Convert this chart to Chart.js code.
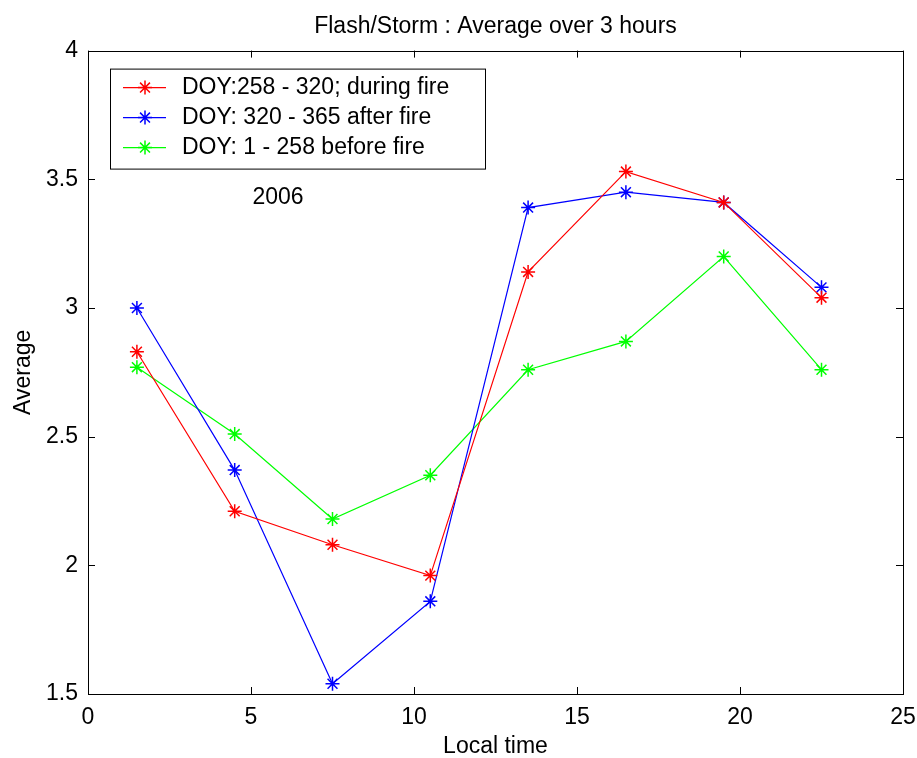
<!DOCTYPE html>
<html>
<head>
<meta charset="utf-8">
<script src="https://cdn.jsdelivr.net/npm/chart.js@4.4.1/dist/chart.umd.min.js"></script>
<style>
  html, body { margin: 0; padding: 0; background: #fff; }
  #wrap { width: 917px; height: 758px; }
</style>
</head>
<body>
<div id="wrap"><canvas id="chart" width="917" height="758"></canvas></div>
<script>
// local time (hours)
const hours = [1.5, 4.5, 7.5, 10.5, 13.5, 16.5, 19.5, 22.5];
const duringFire = [2.83, 2.21, 2.08, 1.96, 3.14, 3.53, 3.41, 3.04];
const afterFire = [3.00, 2.37, 1.54, 1.86, 3.39, 3.45, 3.41, 3.08];
const beforeFire = [2.77, 2.51, 2.18, 2.35, 2.76, 2.87, 3.20, 2.76];
const seriesNames = ['DOY:258 - 320; during fire', 'DOY: 320 - 365 after fire', 'DOY: 1 - 258 before fire'];
const xTicks = [0, 5, 10, 15, 20, 25];
const yTicks = [1.5, 2, 2.5, 3, 3.5, 4];
const yearNote = { text: '2006', x: 5.83, y: 3.43 };

const FONT = 'Liberation Sans, Arial, sans-serif';

function toPoints(vals) {
    return hours.map((h, i) => ({ x: h, y: vals[i] }));
}

function makeSet(label, vals, color) {
    return {
        label: label,
        data: toPoints(vals),
        borderColor: color,
        backgroundColor: color,
        borderWidth: 1.2,
        pointStyle: 'star',
        pointRadius: 7,
        pointBorderWidth: 1.5,
        pointBorderColor: color,
        tension: 0
    };
}

// frame, inward ticks on all four sides, the year note and the boxed legend
const matlabAxes = {
    id: 'matlabAxes',
    afterDatasetsDraw(chart) {
        const ctx = chart.ctx;
        const a = chart.chartArea;
        const xs = chart.scales.x;
        const ys = chart.scales.y;
        const tl = 7;

        ctx.save();
        ctx.strokeStyle = '#000';
        ctx.lineWidth = 1;
        ctx.strokeRect(Math.round(a.left) + 0.5, Math.round(a.top) + 0.5,
            Math.round(a.right - a.left), Math.round(a.bottom - a.top));

        ctx.beginPath();
        xTicks.forEach(v => {
            const px = Math.round(xs.getPixelForValue(v)) + 0.5;
            ctx.moveTo(px, a.bottom); ctx.lineTo(px, a.bottom - tl);
            ctx.moveTo(px, a.top); ctx.lineTo(px, a.top + tl);
        });
        yTicks.forEach(v => {
            const py = Math.round(ys.getPixelForValue(v)) + 0.5;
            ctx.moveTo(a.left, py); ctx.lineTo(a.left + tl, py);
            ctx.moveTo(a.right, py); ctx.lineTo(a.right - tl, py);
        });
        ctx.stroke();

        // year label
        ctx.fillStyle = '#000';
        ctx.font = '23px ' + FONT;
        ctx.textAlign = 'center';
        ctx.textBaseline = 'middle';
        ctx.fillText(yearNote.text, xs.getPixelForValue(yearNote.x), ys.getPixelForValue(yearNote.y));

        // legend box
        const bx = a.left + 22, by = a.top + 18, bw = 375, bh = 100;
        ctx.fillStyle = '#fff';
        ctx.fillRect(bx, by, bw, bh);
        ctx.strokeRect(bx + 0.5, by + 0.5, bw, bh);
        chart.data.datasets.forEach((ds, i) => {
            const cy = by + 19 + i * 30;
            ctx.strokeStyle = ds.borderColor;
            ctx.lineWidth = 1.2;
            ctx.beginPath();
            ctx.moveTo(bx + 13, cy);
            ctx.lineTo(bx + 56, cy);
            ctx.stroke();
            ctx.lineWidth = 1.5;
            Chart.helpers.drawPoint(ctx, { pointStyle: 'star', radius: 7, borderWidth: 1.5 }, bx + 35, cy);
            ctx.fillStyle = '#000';
            ctx.textAlign = 'left';
            ctx.textBaseline = 'middle';
            ctx.fillText(ds.label, bx + 72, cy);
        });
        ctx.restore();
    }
};

const ctx = document.getElementById('chart').getContext('2d');
new Chart(ctx, {
    type: 'line',
    data: {
        datasets: [
            makeSet(seriesNames[0], duringFire, '#ff0000'),
            makeSet(seriesNames[1], afterFire, '#0000ff'),
            makeSet(seriesNames[2], beforeFire, '#00ff00')
        ]
    },
    options: {
        responsive: false,
        animation: false,
        layout: { padding: { left: 0, right: 14, top: 0, bottom: 0 } },
        plugins: {
            legend: { display: false },
            tooltip: { enabled: false },
            title: {
                display: true,
                text: 'Flash/Storm : Average over 3 hours',
                color: '#000',
                fullSize: false,
                font: { family: FONT, size: 23, weight: 'normal', lineHeight: 1.2 },
                padding: { top: 13, bottom: 10 }
            }
        },
        scales: {
            x: {
                type: 'linear',
                min: 0,
                max: 25,
                afterBuildTicks: s => { s.ticks = xTicks.map(v => ({ value: v })); },
                afterFit: s => { s.height = 64; s.paddingLeft = 0; s.paddingRight = 0; },
                grid: { display: false, drawTicks: false },
                border: { display: false },
                ticks: { color: '#000', padding: 10, maxRotation: 0, font: { family: FONT, size: 23 } },
                title: {
                    display: true,
                    text: 'Local time',
                    color: '#000',
                    font: { family: FONT, size: 23, lineHeight: 1 },
                    padding: { top: 0, bottom: 0 }
                }
            },
            y: {
                type: 'linear',
                min: 1.5,
                max: 4,
                afterBuildTicks: s => { s.ticks = yTicks.map(v => ({ value: v })); },
                afterFit: s => { s.width = 88; },
                grid: { display: false, drawTicks: false },
                border: { display: false },
                ticks: {
                    color: '#000',
                    padding: 10,
                    font: { family: FONT, size: 23 },
                    callback: v => String(v)
                },
                title: {
                    display: true,
                    text: 'Average',
                    color: '#000',
                    font: { family: FONT, size: 23, lineHeight: 1.2 },
                    padding: { top: 10, bottom: 0 }
                }
            }
        }
    },
    plugins: [matlabAxes]
});
</script>
</body>
</html>
